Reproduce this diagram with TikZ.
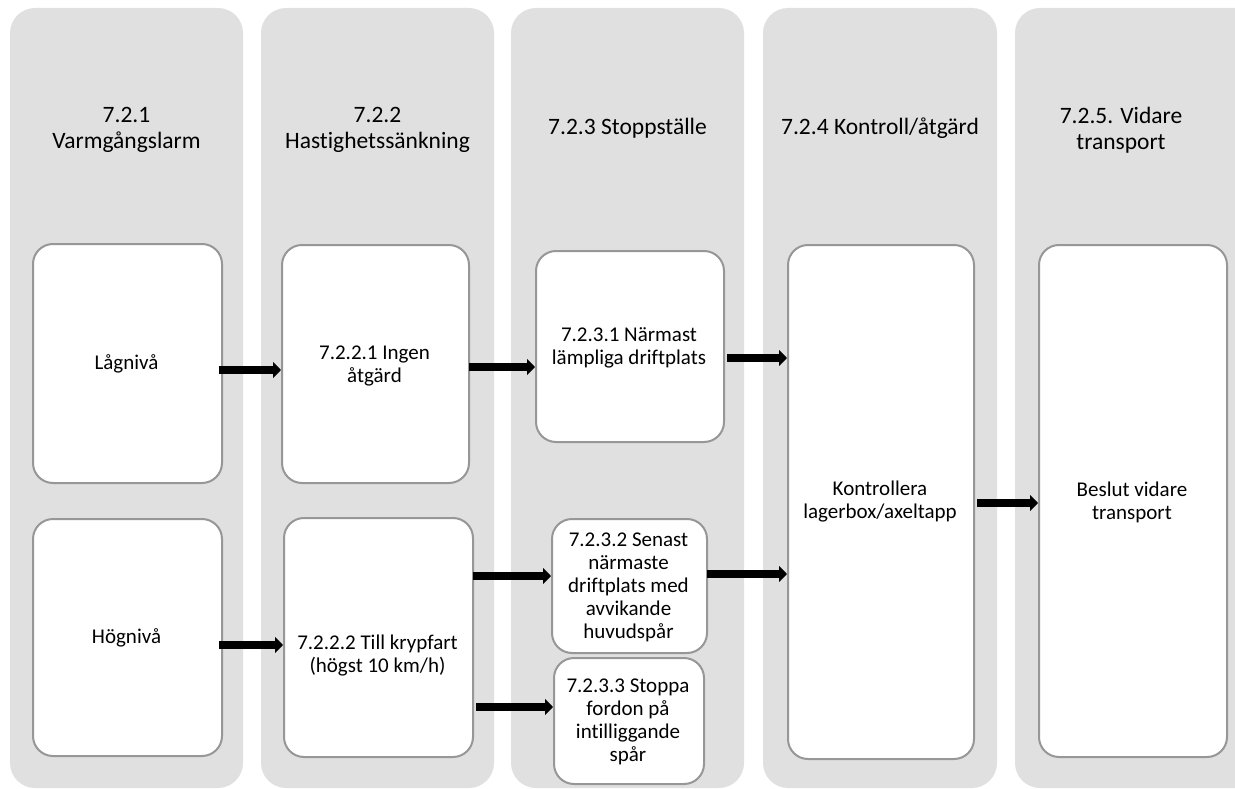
\documentclass[tikz,border=0pt]{standalone}
\usepackage{fontspec}
\setmainfont{Carlito}[Ligatures=NoCommon]
\usetikzlibrary{arrows.meta}
\definecolor{lanegray}{HTML}{E0E0E0}
\definecolor{boxgray}{HTML}{979797}
\tikzset{
  lane/.style={fill=lanegray, draw=none, rounded corners=25pt},
  hdr/.style={align=center, inner sep=0pt, font=\fontsize{23.5}{25.8}\selectfont},
  boxtxt/.style={align=center, inner sep=0pt, font=\fontsize{21}{23}\selectfont},
  wbox/.style={fill=white, draw=boxgray, line width=2pt, rounded corners=20pt, inner sep=0pt, anchor=north west},
  arr/.style={line width=7.5pt, -{Triangle[length=8pt,width=16pt]}},
}
\begin{document}
\begin{tikzpicture}[x=1pt,y=-1pt]
\useasboundingbox (0,0) rectangle (1235,789);
% lanes
\fill[lane] (10,8) rectangle (243,788);
\fill[lane] (261,8) rectangle (494,788);
\fill[lane] (511,8) rectangle (744,788);
\fill[lane] (763,8) rectangle (997,788);
\fill[lane] (1015,8) rectangle (1262,788);
% headers
\node[hdr] (h1) at (126.5,130) {7.2.1\\Varmgångslarm};
\node[hdr] (h2) at (377.5,130) {7.2.2\\Hastighetssänkning};
\node[hdr] (h3) at (627.5,128) {7.2.3 Stoppställe};
\node[hdr] (h4) at (880,128) {7.2.4 Kontroll/åtgärd};
\node[hdr] (h5) at (1121,130) {7.2.5. Vidare\\transport};
% boxes
\node[wbox, minimum width=189pt, minimum height=239pt] (lag) at (32,243) {};
\node[wbox, minimum width=189pt, minimum height=237pt] (hog) at (32,518) {};
\node[wbox, minimum width=187pt, minimum height=238pt] (ing) at (281,244) {};
\node[wbox, minimum width=189pt, minimum height=239pt] (kry) at (283,517) {};
\node[wbox, minimum width=188pt, minimum height=191pt] (nar) at (535,250) {};
\node[wbox, minimum width=155pt, minimum height=134pt] (sen) at (551,518) {};
\node[wbox, minimum width=150pt, minimum height=126pt] (sto) at (553,657) {};
\node[wbox, minimum width=186pt, minimum height=514pt] (kon) at (787,244) {};
\node[wbox, minimum width=188pt, minimum height=512pt] (bes) at (1038,244) {};
% texts
\node[boxtxt] (tlag) at (126.5,364) {Lågnivå};
\node[boxtxt] (thog) at (126.5,638) {Högnivå};
\node[boxtxt] (ting) at (374.5,366) {7.2.2.1 Ingen\\åtgärd};
\node[boxtxt] (tkry) at (377.5,656) {7.2.2.2 Till krypfart\\(högst 10 km/h)};
\node[boxtxt] (tnar) at (629,348) {7.2.3.1 Närmast\\lämpliga driftplats};
\node[boxtxt] (tsen) at (628.5,587) {7.2.3.2 Senast\\närmaste\\driftplats med\\avvikande\\huvudspår};
\node[boxtxt] (tsto) at (628,722) {7.2.3.3 Stoppa\\fordon på\\intilliggande\\spår};
\node[boxtxt] (tkon) at (880,502) {Kontrollera\\lagerbox/axeltapp};
\node[boxtxt] (tbes) at (1132,502) {Beslut vidare\\transport};
% arrows
\draw[arr] ([xshift=-4pt]lag.east |- 0,370) -- (ing.west |- 0,370);
\draw[arr] ([xshift=-1pt]ing.east |- 0,367) -- (nar.west |- 0,367);
\draw[arr] ([xshift=2pt]nar.east |- 0,358) -- (kon.west |- 0,358);
\draw[arr] ([xshift=-4pt]hog.east |- 0,645) -- (kry.west |- 0,645);
\draw[arr] ([xshift=-1pt]kry.east |- 0,576) -- (sen.west |- 0,576);
\draw[arr] ([xshift=2pt]kry.east |- 0,707) -- (sto.west |- 0,707);
\draw[arr] ([xshift=-1pt]sen.east |- 0,574) -- (kon.west |- 0,574);
\draw[arr] ([xshift=2pt]kon.east |- 0,503) -- (bes.west |- 0,503);
\end{tikzpicture}
\end{document}
